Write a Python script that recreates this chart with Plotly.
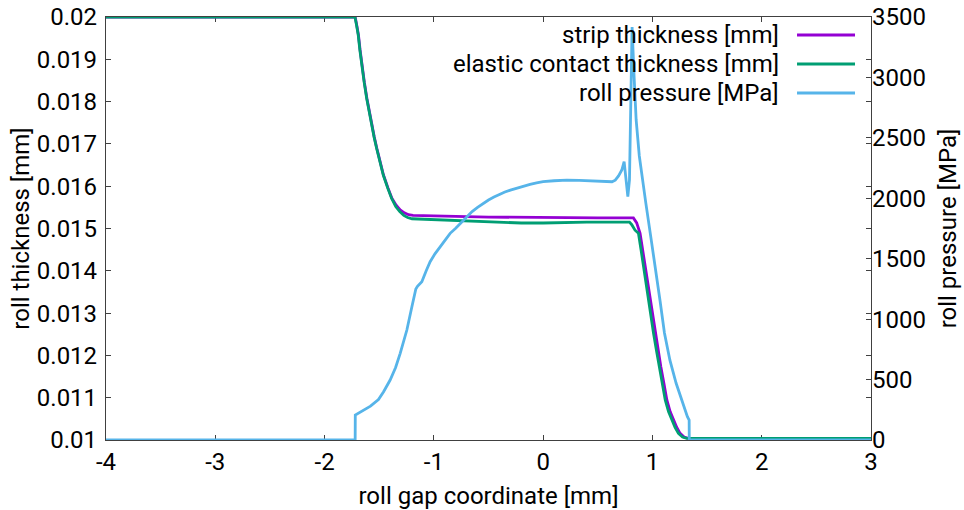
import plotly.graph_objects as go

# ---- data ----
strip_x = [-4.0, -1.720, -1.705, -1.690, -1.675, -1.659, -1.636, -1.613, -1.590, -1.567, -1.545,
           -1.522, -1.490, -1.461, -1.420, -1.384, -1.345, -1.308, -1.270, -1.232, -1.190,
           -1.125, -1.0, -0.5, 0.0, 0.5, 0.826, 0.856, 0.887, 0.911, 0.933, 0.956, 0.979,
           1.002, 1.025, 1.051, 1.077, 1.105, 1.132, 1.162, 1.192, 1.222, 1.253, 1.290, 1.329, 3.0]
strip_h = [0.02, 0.02, 0.01980, 0.019574, 0.01922, 0.018865, 0.01846, 0.018078, 0.01775, 0.017447, 0.01716,
           0.016896, 0.01656, 0.016265, 0.01596, 0.015714, 0.01555, 0.015437, 0.01537, 0.015325, 0.015312,
           0.015305, 0.015300, 0.015270, 0.015255, 0.015252, 0.015250, 0.015132, 0.014887, 0.014492, 0.014097, 0.01370, 0.013310,
           0.01292, 0.012522, 0.01213, 0.011733, 0.01134, 0.010946, 0.01067, 0.010473, 0.01030, 0.010158, 0.01007, 0.01004, 0.01004]

elastic_x = [-4.0, -1.722, -1.707, -1.692, -1.677, -1.661, -1.638, -1.615, -1.592, -1.569, -1.547,
             -1.524, -1.492, -1.463, -1.423, -1.387, -1.349, -1.312, -1.275, -1.240, -1.2,
             -1.0, -0.5, -0.2, 0.0, 0.4, 0.790, 0.811, 0.841, 0.872, 0.896, 0.918, 0.941, 0.964,
             0.987, 1.010, 1.036, 1.062, 1.090, 1.117, 1.147, 1.177, 1.207, 1.238, 1.275, 1.314, 3.0]
elastic_h = [0.02, 0.02, 0.01980, 0.019574, 0.01922, 0.018865, 0.01846, 0.018078, 0.01775, 0.017447, 0.01716,
             0.016896, 0.01656, 0.016265, 0.01596, 0.015714, 0.01552, 0.015400, 0.01531, 0.015260, 0.015230,
             0.015210, 0.015160, 0.015130, 0.015130, 0.015150, 0.015150, 0.015090, 0.014960, 0.014887, 0.014492, 0.014097, 0.01370, 0.013310,
             0.01292, 0.012522, 0.01213, 0.011733, 0.01134, 0.010946, 0.01067, 0.010473, 0.01030, 0.010158, 0.01007, 0.01004, 0.01004]

press_x = [-4.0, -1.720, -1.719, -1.65, -1.58, -1.507, -1.46, -1.40, -1.35, -1.308, -1.247,
           -1.201, -1.165, -1.150, -1.13, -1.110, -1.07, -1.034, -0.99, -0.942, -0.90, -0.851,
           -0.80, -0.75, -0.70, -0.65, -0.60, -0.55, -0.50, -0.45, -0.40, -0.35, -0.30, -0.241,
           -0.18, -0.12, -0.06, 0.0, 0.1, 0.217, 0.33, 0.43, 0.53, 0.63, 0.66, 0.69, 0.72,
           0.741, 0.759, 0.775, 0.790, 0.814, 0.830, 0.851, 0.880, 0.910, 0.940, 0.990, 1.026,
           1.070, 1.110, 1.160, 1.217, 1.270, 1.320, 1.336, 1.337, 3.0]
press_p = [0, 0, 207, 240, 280, 335, 400, 496, 600, 717, 910,
           1103, 1250, 1272, 1290, 1310, 1400, 1475, 1540, 1599, 1655, 1710,
           1752, 1800, 1850, 1890, 1925, 1958, 1986, 2010, 2033, 2052, 2068, 2085,
           2100, 2115, 2128, 2137, 2145, 2151, 2149, 2146, 2142, 2137, 2150, 2185, 2234,
           2303, 2151, 2013, 2151, 3417, 3050, 2648, 2350, 2140, 1958, 1650, 1434,
           1150, 885, 660, 469, 320, 193, 165, 0, 0]

x_ticks = [-4, -3, -2, -1, 0, 1, 2, 3]
x_tick_labels = ["-4", "-3", "-2", "-1", "0", "1", "2", "3"]
y_ticks = [0.01, 0.011, 0.012, 0.013, 0.014, 0.015, 0.016, 0.017, 0.018, 0.019, 0.02]
y_tick_labels = ["0.01", "0.011", "0.012", "0.013", "0.014", "0.015", "0.016", "0.017", "0.018", "0.019", "0.02"]
y2_ticks = [0, 500, 1000, 1500, 2000, 2500, 3000, 3500]

names = ["strip thickness [mm]", "elastic contact thickness [mm]", "roll pressure [MPa]"]
colors = ["#9400d3", "#009e73", "#56b4e9"]

FONT = "Roboto"
FS = 24
TFS = 24
LW = 2.8
AX = "#404040"

fig = go.Figure()
fig.add_trace(go.Scatter(x=strip_x, y=strip_h, mode="lines", name=names[0],
                         line=dict(color=colors[0], width=LW), showlegend=False))
fig.add_trace(go.Scatter(x=elastic_x, y=elastic_h, mode="lines", name=names[1],
                         line=dict(color=colors[1], width=LW), showlegend=False))
fig.add_trace(go.Scatter(x=press_x, y=press_p, mode="lines", name=names[2],
                         line=dict(color=colors[2], width=LW), yaxis="y2", showlegend=False))

# legend drawn gnuplot-style: right-aligned text, sample line to the right
leg_y = [0.9574, 0.8889, 0.8203]
for n, c, yy in zip(names, colors, leg_y):
    fig.add_annotation(xref="paper", yref="paper", x=0.8824, y=yy, text=n,
                       showarrow=False, xanchor="right", yanchor="middle",
                       font=dict(family=FONT, size=FS, color="black"))
    fig.add_shape(type="line", xref="paper", yref="paper", x0=0.9033, x1=0.9791,
                  y0=yy, y1=yy, line=dict(color=c, width=LW))

fig.update_layout(
    width=964, height=510,
    margin=dict(l=106, r=93, t=17, b=70, autoexpand=False),
    plot_bgcolor="white", paper_bgcolor="white",
    font=dict(family=FONT, size=FS, color="black"),
    xaxis=dict(range=[-4, 3], tickvals=x_ticks, ticktext=x_tick_labels,
               ticks="inside", ticklen=5,
               tickcolor=AX, showline=True, linecolor=AX, linewidth=1.2,
               mirror="ticks", showgrid=False, zeroline=False, automargin=False,
               title=dict(text="roll gap coordinate [mm]", standoff=12,
                          font=dict(size=TFS)),
               layer="below traces"),
    yaxis=dict(range=[0.01, 0.02], tickvals=y_ticks, ticktext=y_tick_labels,
               ticks="inside", ticklen=5, tickcolor=AX, showline=True,
               linecolor=AX, linewidth=1.2, mirror="ticks", showgrid=False,
               zeroline=False, automargin=False, ticklabelstandoff=3,
               title=dict(text="roll thickness [mm]", standoff=0,
                          font=dict(size=TFS)),
               layer="below traces"),
    yaxis2=dict(range=[0, 3500], tickvals=y2_ticks, overlaying="y", side="right",
                ticks="inside", ticklen=5, tickcolor=AX, showline=False,
                showgrid=False, zeroline=False, automargin=False,
                title=dict(text="roll pressure [MPa]", standoff=14,
                           font=dict(size=TFS)),
                layer="below traces"),
)

fig.write_html("out.html", config={"displayModeBar": False},
               post_script="document.body.style.margin='0';")
